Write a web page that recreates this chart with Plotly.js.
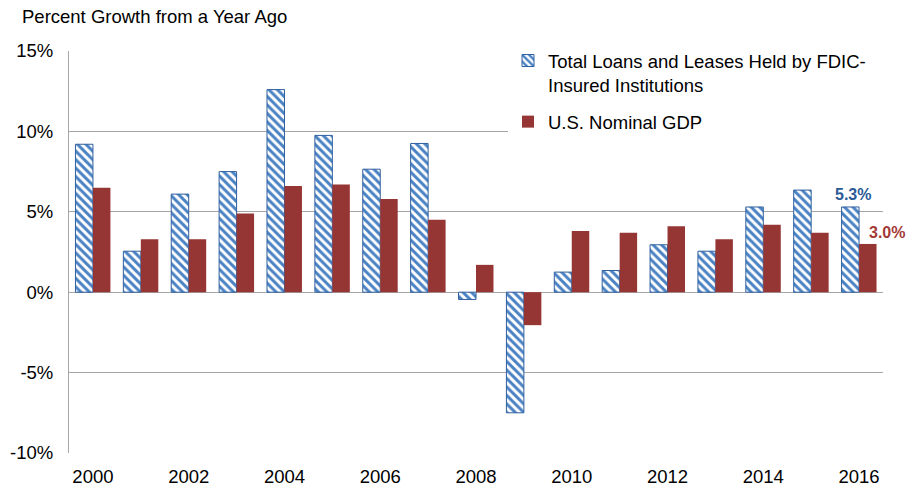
<!DOCTYPE html>
<html>
<head>
<meta charset="utf-8">
<script src="https://cdn.plot.ly/plotly-3.0.1.min.js"></script>
<style>html,body{margin:0;padding:0;background:#fff;}#chart{width:908px;height:489px;}</style>
</head>
<body>
<div id="chart"></div>
<script>
const years = ['2000','2001','2002','2003','2004','2005','2006','2007','2008','2009','2010','2011','2012','2013','2014','2015','2016'];
const loans = [9.2, 2.55, 6.1, 7.5, 12.6, 9.75, 7.65, 9.25, -0.45, -7.5, 1.25, 1.35, 2.95, 2.55, 5.3, 6.35, 5.3];
const gdp = [6.5, 3.3, 3.3, 4.9, 6.6, 6.7, 5.8, 4.5, 1.7, -2.05, 3.8, 3.7, 4.1, 3.3, 4.2, 3.7, 3.0];
const tickYears = ['2000','2002','2004','2006','2008','2010','2012','2014','2016'];
const yTicks = [-10, -5, 0, 5, 10, 15];
const yTickText = ['-10%', '-5%', '0%', '5%', '10%', '15%'];
const seriesNames = ['Total Loans and Leases Held by FDIC-&nbsp;&nbsp;&nbsp;<br>Insured Institutions', 'U.S. Nominal GDP'];

const last = years.length - 1;
const traces = [
  {
    type: 'bar', x: years, y: loans, name: seriesNames[0], legendgroup: 'a',
    marker: {
      color: '#ffffff',
      pattern: {shape: '\\', fgcolor: '#4a82c4', bgcolor: '#ffffff', size: 6, solidity: 0.5},
      line: {color: '#2f5f9e', width: 1}
    },
    hoverinfo: 'skip'
  },
  {
    type: 'bar', x: years, y: gdp, name: seriesNames[1], legendgroup: 'b',
    marker: {color: '#963634', line: {width: 0}},
    hoverinfo: 'skip'
  }
];

const layout = {
  width: 908, height: 489,
  margin: {l: 69, r: 25, t: 51, b: 36},
  paper_bgcolor: '#ffffff', plot_bgcolor: '#ffffff',
  font: {family: 'Arial, "Liberation Sans", sans-serif', size: 18.5, color: '#000000'},
  title: {
    text: 'Percent Growth from a Year Ago',
    font: {size: 18.5, color: '#000000'},
    x: 22/908, xref: 'container', xanchor: 'left',
    y: 1 - 17/489, yref: 'container', yanchor: 'middle'
  },
  barmode: 'group', bargap: 0.27, bargroupgap: 0,
  showlegend: true,
  legend: {
    x: (508 - 69) / 814, xanchor: 'left', y: 1.0 + 9/402, yanchor: 'top',
    bgcolor: '#ffffff', borderwidth: 0,
    font: {size: 18.5, color: '#000000'},
    traceorder: 'grouped', tracegroupgap: 10, valign: 'top'
  },
  xaxis: {
    type: 'category', range: [-0.5, last + 0.5], autorange: false,
    tickmode: 'array', tickvals: tickYears, ticktext: tickYears,
    showgrid: false, showline: false, ticks: '', zeroline: false,
    tickfont: {size: 18.5}, ticklabelstandoff: 10
  },
  yaxis: {
    range: [-10, 15], autorange: false, tickmode: 'array', tickvals: yTicks, ticktext: yTickText,
    showgrid: true, gridcolor: '#a6a6a6', gridwidth: 1,
    zeroline: false, showline: true, linecolor: '#a6a6a6', linewidth: 1,
    ticks: '', tickfont: {size: 18.5}, ticklabelstandoff: 11
  },
  annotations: [
    {x: last, y: loans[last], xref: 'x', yref: 'y', text: '<b>' + loans[last].toFixed(1) + '%</b>',
     showarrow: false, xshift: -6, yshift: 12, font: {size: 16, color: '#2a5a96'}},
    {x: last, y: gdp[last], xref: 'x', yref: 'y', text: '<b>' + gdp[last].toFixed(1) + '%</b>',
     showarrow: false, xshift: 28, yshift: 11, font: {size: 16, color: '#a33a37'}}
  ]
};

Plotly.newPlot('chart', traces, layout, {displayModeBar: false, staticPlot: true});
</script>
</body>
</html>
